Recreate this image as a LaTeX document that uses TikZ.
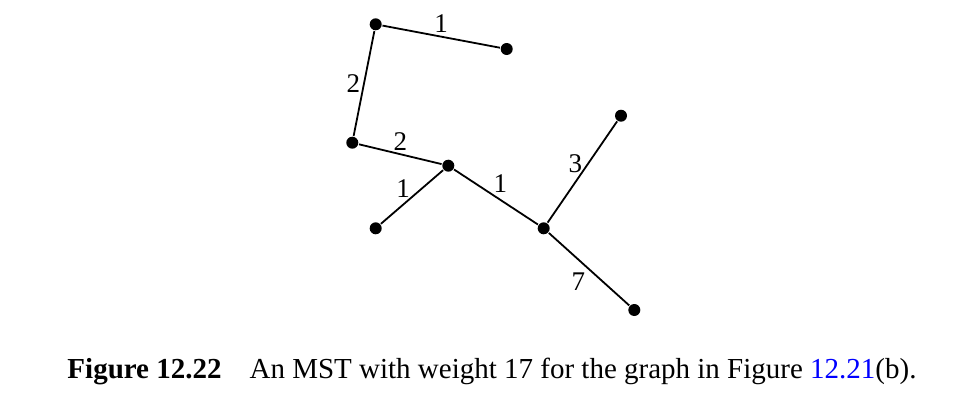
\documentclass[tikz,border=0pt]{standalone}
\usepackage{fontspec}
\setmainfont{Liberation Serif}
\usetikzlibrary{positioning}

\begin{document}
\begin{tikzpicture}
[x=1pt,y=-1pt,line width=1.8pt,
every node/.style={font=\fontsize{27}{32}\selectfont},
vertex/.style={circle,fill=black,inner sep=0pt,minimum size=12pt},
weight/.style={inner sep=3pt}]
\useasboundingbox (0,0) rectangle (980,408);
% vertices
\node [vertex] (a) at (375.7,24.3) {};
\node [vertex] (b) at (506.7,49) {};
\node [vertex] (c) at (352.3,142.7) {};
\node [vertex] (d) at (448.3,165.7) {};
\node [vertex] (e) at (375.7,228.3) {};
\node [vertex] (f) at (543.7,228.3) {};
\node [vertex] (g) at (621,115.7) {};
\node [vertex] (h) at (634.3,310) {};
% tree edges
\draw (a) -- node [weight,above] {1} (b);
\draw (a) -- node [weight,left] {2} (c);
\draw (c) -- node [weight,above] {2} (d);
\draw (d) -- node [weight,above left,pos=.52,inner sep=0pt] {1} (e);
\draw (d) -- node [weight,above right,pos=.45,inner sep=1pt] {1} (f);
\draw (f) -- node [weight,left,pos=.58,inner sep=5pt] {3} (g);
\draw (f) -- node [weight,below left,pos=.5] {7} (h);
% caption
\node (cap) [anchor=base,font=\fontsize{29}{34}\selectfont] at (492,378)
{\textbf{Figure 12.22}\hspace{28pt}An MST with weight 17 for the graph in Figure \textcolor{blue}{12.21}(b).};
\end{tikzpicture}
\end{document}
